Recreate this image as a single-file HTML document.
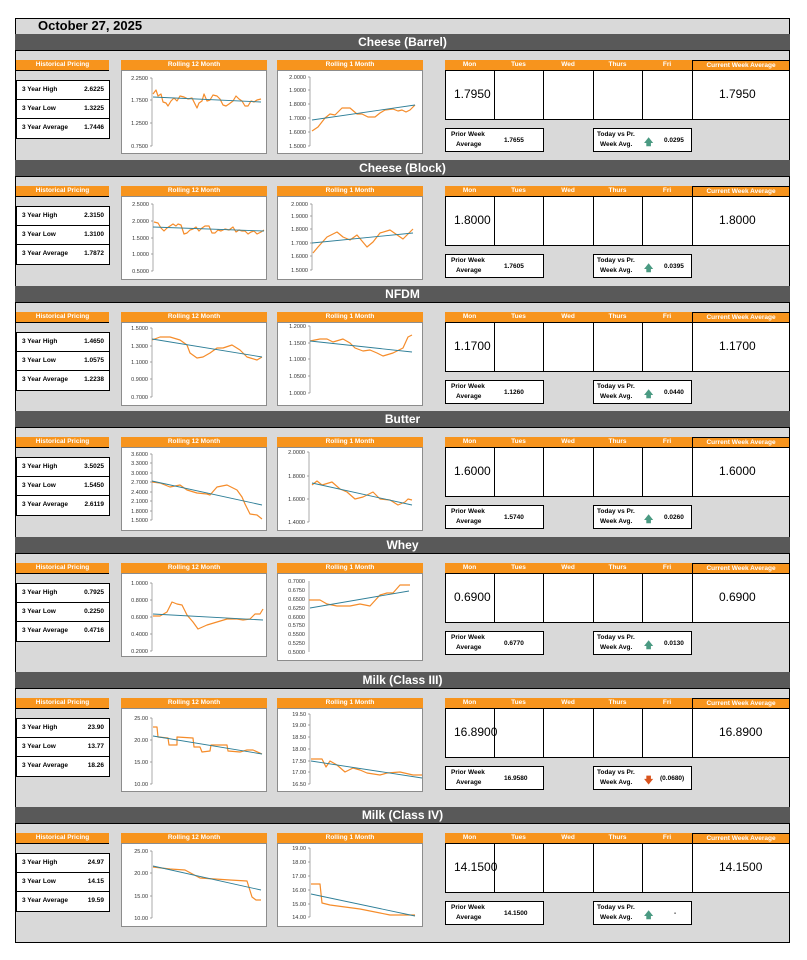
<!DOCTYPE html>
<html><head><meta charset="utf-8"><style>
*{margin:0;padding:0;box-sizing:border-box}
body{width:807px;height:960px;background:#fff;position:relative;font-family:"Liberation Sans",sans-serif;overflow:hidden}
.frame{position:absolute;left:15px;top:18px;width:775px;height:925px;background:#d9d9d9;border:1px solid #000}
.date{position:absolute;left:38px;top:18px;font-size:13px;font-weight:bold;color:#000}
.sec{position:absolute;left:0;width:807px;height:130px}
.hd{position:absolute;left:15px;top:0;width:775px;height:17px;background:#595959;border-bottom:1px solid #000;color:#fff;font-weight:bold;font-size:12px;text-align:center;line-height:16px;padding-left:0}
.ob{position:absolute;top:26px;height:10px;background:#f7941d;color:#fff;font-size:6.5px;font-weight:bold;text-align:center;line-height:10px}
.hist{left:16px;width:93px;border-bottom:1px solid #000;height:11px}
.tbl{position:absolute;left:16px;top:46px;width:94px;height:59px;background:#fff;border:1px solid #000}
.tbl div{height:19px;border-bottom:1px solid #000;font-size:6.5px;font-weight:bold;line-height:18px;padding:0 5px;display:flex;justify-content:space-between}
.tbl div:last-child{border-bottom:none}
.cb{position:absolute;top:36px;width:146px;height:84px;background:#fff;border:1px solid #8c8c8c}
.cells{position:absolute;left:445px;top:36px;width:345px;height:50px;background:#fff;border:1px solid #000}
.dv{position:absolute;top:0;width:1px;height:48px;background:#000}
.v1{position:absolute;left:8px;top:16px;font-size:12px}
.v2{position:absolute;left:273px;top:16px;font-size:12px}
.bx{position:absolute;top:94px;width:99px;height:24px;background:#fff;border:1px solid #000;font-size:6.5px;font-weight:bold}
.cwa{position:absolute;left:692px;top:26px;width:98px;height:11px;border:1px solid #000;background:#f7941d;color:#fff;font-size:6.5px;font-weight:bold;text-align:center;line-height:9px}
svg{position:absolute;left:0;top:0}
</style></head><body>
<div class="frame"></div>
<div class="date">October 27, 2025</div>

<div class="sec" style="top:34px">
<div class="hd">Cheese (Barrel)</div>
<div class="ob hist">Historical Pricing</div>
<div class="tbl"><div><span>3 Year High</span><span>2.6225</span></div><div><span>3 Year Low</span><span>1.3225</span></div><div><span>3 Year Average</span><span>1.7446</span></div></div>
<div class="ob" style="left:121px;width:146px">Rolling 12 Month</div><div class="cb" style="left:121px"></div>
<div class="ob" style="left:277px;width:146px">Rolling 1 Month</div><div class="cb" style="left:277px"></div>
<div class="ob" style="left:445px;width:247px;display:flex"><span style="width:49px">Mon</span><span style="width:49px">Tues</span><span style="width:50px">Wed</span><span style="width:49px">Thurs</span><span style="width:50px">Fri</span></div>
<div class="cwa">Current Week Average</div>
<div class="cells"><div class="dv" style="left:48px"></div><div class="dv" style="left:97px"></div><div class="dv" style="left:147px"></div><div class="dv" style="left:196px"></div><div class="dv" style="left:246px"></div><div class="v1">1.7950</div><div class="v2">1.7950</div></div>
<div class="bx" style="left:445px"><span style="position:absolute;left:5px;top:2px">Prior Week</span><span style="position:absolute;left:10px;top:12px">Average</span><span style="position:absolute;left:58px;top:8px">1.7655</span></div>
<div class="bx" style="left:593px"><span style="position:absolute;left:3px;top:2px">Today vs Pr.</span><span style="position:absolute;left:6px;top:12px">Week Avg.</span><span style="position:absolute;left:50px;top:6px;color:#4a9a82;font-size:9px">🡅</span><span style="position:absolute;left:70px;top:8px">0.0295</span></div>
</div>

<div class="sec" style="top:160px">
<div class="hd">Cheese (Block)</div>
<div class="ob hist">Historical Pricing</div>
<div class="tbl"><div><span>3 Year High</span><span>2.3150</span></div><div><span>3 Year Low</span><span>1.3100</span></div><div><span>3 Year Average</span><span>1.7872</span></div></div>
<div class="ob" style="left:121px;width:146px">Rolling 12 Month</div><div class="cb" style="left:121px"></div>
<div class="ob" style="left:277px;width:146px">Rolling 1 Month</div><div class="cb" style="left:277px"></div>
<div class="ob" style="left:445px;width:247px;display:flex"><span style="width:49px">Mon</span><span style="width:49px">Tues</span><span style="width:50px">Wed</span><span style="width:49px">Thurs</span><span style="width:50px">Fri</span></div>
<div class="cwa">Current Week Average</div>
<div class="cells"><div class="dv" style="left:48px"></div><div class="dv" style="left:97px"></div><div class="dv" style="left:147px"></div><div class="dv" style="left:196px"></div><div class="dv" style="left:246px"></div><div class="v1">1.8000</div><div class="v2">1.8000</div></div>
<div class="bx" style="left:445px"><span style="position:absolute;left:5px;top:2px">Prior Week</span><span style="position:absolute;left:10px;top:12px">Average</span><span style="position:absolute;left:58px;top:8px">1.7605</span></div>
<div class="bx" style="left:593px"><span style="position:absolute;left:3px;top:2px">Today vs Pr.</span><span style="position:absolute;left:6px;top:12px">Week Avg.</span><span style="position:absolute;left:50px;top:6px;color:#4a9a82;font-size:9px">🡅</span><span style="position:absolute;left:70px;top:8px">0.0395</span></div>
</div>

<div class="sec" style="top:286px">
<div class="hd">NFDM</div>
<div class="ob hist">Historical Pricing</div>
<div class="tbl"><div><span>3 Year High</span><span>1.4650</span></div><div><span>3 Year Low</span><span>1.0575</span></div><div><span>3 Year Average</span><span>1.2238</span></div></div>
<div class="ob" style="left:121px;width:146px">Rolling 12 Month</div><div class="cb" style="left:121px"></div>
<div class="ob" style="left:277px;width:146px">Rolling 1 Month</div><div class="cb" style="left:277px"></div>
<div class="ob" style="left:445px;width:247px;display:flex"><span style="width:49px">Mon</span><span style="width:49px">Tues</span><span style="width:50px">Wed</span><span style="width:49px">Thurs</span><span style="width:50px">Fri</span></div>
<div class="cwa">Current Week Average</div>
<div class="cells"><div class="dv" style="left:48px"></div><div class="dv" style="left:97px"></div><div class="dv" style="left:147px"></div><div class="dv" style="left:196px"></div><div class="dv" style="left:246px"></div><div class="v1">1.1700</div><div class="v2">1.1700</div></div>
<div class="bx" style="left:445px"><span style="position:absolute;left:5px;top:2px">Prior Week</span><span style="position:absolute;left:10px;top:12px">Average</span><span style="position:absolute;left:58px;top:8px">1.1260</span></div>
<div class="bx" style="left:593px"><span style="position:absolute;left:3px;top:2px">Today vs Pr.</span><span style="position:absolute;left:6px;top:12px">Week Avg.</span><span style="position:absolute;left:50px;top:6px;color:#4a9a82;font-size:9px">🡅</span><span style="position:absolute;left:70px;top:8px">0.0440</span></div>
</div>

<div class="sec" style="top:411px">
<div class="hd">Butter</div>
<div class="ob hist">Historical Pricing</div>
<div class="tbl"><div><span>3 Year High</span><span>3.5025</span></div><div><span>3 Year Low</span><span>1.5450</span></div><div><span>3 Year Average</span><span>2.6119</span></div></div>
<div class="ob" style="left:121px;width:146px">Rolling 12 Month</div><div class="cb" style="left:121px"></div>
<div class="ob" style="left:277px;width:146px">Rolling 1 Month</div><div class="cb" style="left:277px"></div>
<div class="ob" style="left:445px;width:247px;display:flex"><span style="width:49px">Mon</span><span style="width:49px">Tues</span><span style="width:50px">Wed</span><span style="width:49px">Thurs</span><span style="width:50px">Fri</span></div>
<div class="cwa">Current Week Average</div>
<div class="cells"><div class="dv" style="left:48px"></div><div class="dv" style="left:97px"></div><div class="dv" style="left:147px"></div><div class="dv" style="left:196px"></div><div class="dv" style="left:246px"></div><div class="v1">1.6000</div><div class="v2">1.6000</div></div>
<div class="bx" style="left:445px"><span style="position:absolute;left:5px;top:2px">Prior Week</span><span style="position:absolute;left:10px;top:12px">Average</span><span style="position:absolute;left:58px;top:8px">1.5740</span></div>
<div class="bx" style="left:593px"><span style="position:absolute;left:3px;top:2px">Today vs Pr.</span><span style="position:absolute;left:6px;top:12px">Week Avg.</span><span style="position:absolute;left:50px;top:6px;color:#4a9a82;font-size:9px">🡅</span><span style="position:absolute;left:70px;top:8px">0.0260</span></div>
</div>

<div class="sec" style="top:537px">
<div class="hd">Whey</div>
<div class="ob hist">Historical Pricing</div>
<div class="tbl"><div><span>3 Year High</span><span>0.7925</span></div><div><span>3 Year Low</span><span>0.2250</span></div><div><span>3 Year Average</span><span>0.4716</span></div></div>
<div class="ob" style="left:121px;width:146px">Rolling 12 Month</div><div class="cb" style="left:121px"></div>
<div class="ob" style="left:277px;width:146px">Rolling 1 Month</div><div class="cb" style="left:277px;height:88px"></div>
<div class="ob" style="left:445px;width:247px;display:flex"><span style="width:49px">Mon</span><span style="width:49px">Tues</span><span style="width:50px">Wed</span><span style="width:49px">Thurs</span><span style="width:50px">Fri</span></div>
<div class="cwa">Current Week Average</div>
<div class="cells"><div class="dv" style="left:48px"></div><div class="dv" style="left:97px"></div><div class="dv" style="left:147px"></div><div class="dv" style="left:196px"></div><div class="dv" style="left:246px"></div><div class="v1">0.6900</div><div class="v2">0.6900</div></div>
<div class="bx" style="left:445px"><span style="position:absolute;left:5px;top:2px">Prior Week</span><span style="position:absolute;left:10px;top:12px">Average</span><span style="position:absolute;left:58px;top:8px">0.6770</span></div>
<div class="bx" style="left:593px"><span style="position:absolute;left:3px;top:2px">Today vs Pr.</span><span style="position:absolute;left:6px;top:12px">Week Avg.</span><span style="position:absolute;left:50px;top:6px;color:#4a9a82;font-size:9px">🡅</span><span style="position:absolute;left:70px;top:8px">0.0130</span></div>
</div>

<div class="sec" style="top:672px">
<div class="hd">Milk (Class III)</div>
<div class="ob hist">Historical Pricing</div>
<div class="tbl"><div><span>3 Year High</span><span>23.90</span></div><div><span>3 Year Low</span><span>13.77</span></div><div><span>3 Year Average</span><span>18.26</span></div></div>
<div class="ob" style="left:121px;width:146px">Rolling 12 Month</div><div class="cb" style="left:121px"></div>
<div class="ob" style="left:277px;width:146px">Rolling 1 Month</div><div class="cb" style="left:277px"></div>
<div class="ob" style="left:445px;width:247px;display:flex"><span style="width:49px">Mon</span><span style="width:49px">Tues</span><span style="width:50px">Wed</span><span style="width:49px">Thurs</span><span style="width:50px">Fri</span></div>
<div class="cwa">Current Week Average</div>
<div class="cells"><div class="dv" style="left:48px"></div><div class="dv" style="left:97px"></div><div class="dv" style="left:147px"></div><div class="dv" style="left:196px"></div><div class="dv" style="left:246px"></div><div class="v1">16.8900</div><div class="v2">16.8900</div></div>
<div class="bx" style="left:445px"><span style="position:absolute;left:5px;top:2px">Prior Week</span><span style="position:absolute;left:10px;top:12px">Average</span><span style="position:absolute;left:58px;top:8px">16.9580</span></div>
<div class="bx" style="left:593px"><span style="position:absolute;left:3px;top:2px">Today vs Pr.</span><span style="position:absolute;left:6px;top:12px">Week Avg.</span><span style="position:absolute;left:50px;top:6px;color:#d9541e;font-size:9px">🡇</span><span style="position:absolute;left:66px;top:8px">(0.0680)</span></div>
</div>

<div class="sec" style="top:807px">
<div class="hd">Milk (Class IV)</div>
<div class="ob hist">Historical Pricing</div>
<div class="tbl"><div><span>3 Year High</span><span>24.97</span></div><div><span>3 Year Low</span><span>14.15</span></div><div><span>3 Year Average</span><span>19.59</span></div></div>
<div class="ob" style="left:121px;width:146px">Rolling 12 Month</div><div class="cb" style="left:121px"></div>
<div class="ob" style="left:277px;width:146px">Rolling 1 Month</div><div class="cb" style="left:277px"></div>
<div class="ob" style="left:445px;width:247px;display:flex"><span style="width:49px">Mon</span><span style="width:49px">Tues</span><span style="width:50px">Wed</span><span style="width:49px">Thurs</span><span style="width:50px">Fri</span></div>
<div class="cwa">Current Week Average</div>
<div class="cells"><div class="dv" style="left:48px"></div><div class="dv" style="left:97px"></div><div class="dv" style="left:147px"></div><div class="dv" style="left:196px"></div><div class="dv" style="left:246px"></div><div class="v1">14.1500</div><div class="v2">14.1500</div></div>
<div class="bx" style="left:445px"><span style="position:absolute;left:5px;top:2px">Prior Week</span><span style="position:absolute;left:10px;top:12px">Average</span><span style="position:absolute;left:58px;top:8px">14.1500</span></div>
<div class="bx" style="left:593px"><span style="position:absolute;left:3px;top:2px">Today vs Pr.</span><span style="position:absolute;left:6px;top:12px">Week Avg.</span><span style="position:absolute;left:50px;top:6px;color:#4a9a82;font-size:9px">🡅</span><span style="position:absolute;left:80px;top:8px">-</span></div>
</div>

<svg width="807" height="960" viewBox="0 0 807 960" font-family="Liberation Sans, sans-serif" font-size="5.5" fill="#333">
<g stroke="#888" stroke-width="0.7" fill="none">
<path d="M152 78V146M152 78h-2M152 100h-2M152 123h-2M152 146h-2"/>
<path d="M310 77V146M310 77h-2M310 90h-2M310 104h-2M310 118h-2M310 132h-2M310 146h-2"/>
<path d="M153 204V271M153 204h-2M153 221h-2M153 238h-2M153 254h-2M153 271h-2"/>
<path d="M312 204V270M312 204h-2M312 216h-2M312 229h-2M312 243h-2M312 256h-2M312 270h-2"/>
<path d="M152 328V397M152 328h-2M152 346h-2M152 362h-2M152 379h-2M152 397h-2"/>
<path d="M310 326V393M310 326h-2M310 343h-2M310 359h-2M310 376h-2M310 393h-2"/>
<path d="M152 454V520M152 454h-2M152 463h-2M152 473h-2M152 482h-2M152 492h-2M152 501h-2M152 511h-2M152 520h-2"/>
<path d="M309 452V522M309 452h-2M309 476h-2M309 499h-2M309 522h-2"/>
<path d="M152 583V651M152 583h-2M152 600h-2M152 617h-2M152 634h-2M152 651h-2"/>
<path d="M309 581V652"/>
<path d="M152 718V784M152 718h-2M152 740h-2M152 762h-2M152 784h-2"/>
<path d="M310 714V784M310 714h-2M310 725h-2M310 737h-2M310 749h-2M310 761h-2M310 772h-2M310 784h-2"/>
<path d="M152 851V918M152 851h-2M152 873h-2M152 896h-2M152 918h-2"/>
<path d="M310 848V917M310 848h-2M310 862h-2M310 876h-2M310 890h-2M310 904h-2M310 917h-2"/>
</g>
<g text-anchor="end">
<text x="148" y="80">2.2500</text><text x="148" y="102">1.7500</text><text x="148" y="125">1.2500</text><text x="148" y="148">0.7500</text>
<text x="306" y="79">2.0000</text><text x="306" y="92">1.9000</text><text x="306" y="106">1.8000</text><text x="306" y="120">1.7000</text><text x="306" y="134">1.6000</text><text x="306" y="148">1.5000</text>
<text x="149" y="206">2.5000</text><text x="149" y="223">2.0000</text><text x="149" y="240">1.5000</text><text x="149" y="256">1.0000</text><text x="149" y="273">0.5000</text>
<text x="308" y="206">2.0000</text><text x="308" y="218">1.9000</text><text x="308" y="231">1.8000</text><text x="308" y="245">1.7000</text><text x="308" y="258">1.6000</text><text x="308" y="272">1.5000</text>
<text x="148" y="330">1.5000</text><text x="148" y="348">1.3000</text><text x="148" y="364">1.1000</text><text x="148" y="381">0.9000</text><text x="148" y="399">0.7000</text>
<text x="306" y="328">1.2000</text><text x="306" y="345">1.1500</text><text x="306" y="361">1.1000</text><text x="306" y="378">1.0500</text><text x="306" y="395">1.0000</text>
<text x="148" y="456">3.6000</text><text x="148" y="465">3.3000</text><text x="148" y="475">3.0000</text><text x="148" y="484">2.7000</text><text x="148" y="494">2.4000</text><text x="148" y="503">2.1000</text><text x="148" y="513">1.8000</text><text x="148" y="522">1.5000</text>
<text x="305" y="454">2.0000</text><text x="305" y="478">1.8000</text><text x="305" y="501">1.6000</text><text x="305" y="524">1.4000</text>
<text x="148" y="585">1.0000</text><text x="148" y="602">0.8000</text><text x="148" y="619">0.6000</text><text x="148" y="636">0.4000</text><text x="148" y="653">0.2000</text>
<text x="305" y="583">0.7000</text><text x="305" y="592">0.6750</text><text x="305" y="601">0.6500</text><text x="305" y="610">0.6250</text><text x="305" y="619">0.6000</text><text x="305" y="627">0.5750</text><text x="305" y="636">0.5500</text><text x="305" y="645">0.5250</text><text x="305" y="654">0.5000</text>
<text x="148" y="720">25.00</text><text x="148" y="742">20.00</text><text x="148" y="764">15.00</text><text x="148" y="786">10.00</text>
<text x="306" y="716">19.50</text><text x="306" y="727">19.00</text><text x="306" y="739">18.50</text><text x="306" y="751">18.00</text><text x="306" y="763">17.50</text><text x="306" y="774">17.00</text><text x="306" y="786">16.50</text>
<text x="148" y="853">25.00</text><text x="148" y="875">20.00</text><text x="148" y="898">15.00</text><text x="148" y="920">10.00</text>
<text x="306" y="850">19.00</text><text x="306" y="864">18.00</text><text x="306" y="878">17.00</text><text x="306" y="892">16.00</text><text x="306" y="906">15.00</text><text x="306" y="919">14.00</text>
</g>
<g fill="none" stroke="#f58c2a" stroke-width="1.2" stroke-linejoin="round">
<polyline points="153,94 156,90 158,96 161,94 163,102 166,103 168,106 171,101 174,98 177,101 180,96 184,97 188,99 192,98 195,104 197,108 199,103 202,101 204,94 207,101 210,100 213,95 217,96 220,99 223,105 226,106 229,104 233,101 236,96 239,99 242,101 245,106 248,106 251,101 254,102 257,100 261,99"/>
<polyline points="312,131 318,127 325,118 330,114 335,115 342,108 350,108 357,114 362,114 368,117 375,117 380,113 385,110 393,109 398,111 402,110 406,112 410,110 415,105"/>
<polyline points="154,222 158,223 161,228 164,231 167,228 170,226 173,224 176,226 178,224 181,225 184,234 187,233 190,230 193,229 196,227 199,231 202,228 205,226 209,226 212,233 215,233 218,230 221,231 225,229 229,230 233,227 236,232 239,230 242,231 245,231 248,234 251,232 254,231 257,234 261,232 264,230"/>
<polyline points="313,253 318,247 327,237 337,232 343,237 350,240 357,235 367,247 373,242 380,233 390,230 403,239 413,229"/>
<polyline points="152,340 160,337 170,337 180,340 187,345 190,353 197,358 203,357 210,353 217,348 223,348 232,345 240,350 247,357 257,360 262,357"/>
<polyline points="310,341 320,339 327,339 333,342 343,339 350,343 355,348 363,351 370,350 377,353 383,356 393,353 403,348 408,337 412,335"/>
<polyline points="152,482 160,483 170,487 180,485 187,490 197,493 207,494 210,495 217,487 227,485 237,490 242,497 245,504 250,514 257,515 262,519"/>
<polyline points="312,485 317,481 322,485 332,482 340,489 347,492 355,499 363,497 373,492 380,499 390,500 398,505 405,502 408,499 412,500"/>
<polyline points="153,616 160,616 167,612 172,602 177,604 182,605 187,615 193,622 198,629 207,625 217,622 227,619 237,619 243,620 250,619 255,614 260,614 263,609"/>
<polyline points="309,600 320,600 327,604 337,606 350,606 360,604 370,606 380,595 387,593 393,593 400,585 410,585"/>
<polyline points="153,727 157,727 158,737 168,738 169,745 177,745 177,737 193,738 194,747 200,747 202,752 210,751 211,745 227,745 228,751 240,752 247,750 253,750 262,754"/>
<polyline points="311,759 322,759 326,767 330,761 337,765 345,772 353,768 360,770 367,773 380,775 387,773 400,772 413,775 422,775"/>
<polyline points="153,867 170,869 185,870 200,878 230,880 247,881 252,897 256,900 261,900"/>
<polyline points="311,884 320,884 322,903 330,905 360,909 390,915 415,915"/>
</g>
<g stroke="#2f7f98" stroke-width="0.9">
<line x1="153" y1="97" x2="261" y2="102"/><line x1="312" y1="120" x2="415" y2="105"/>
<line x1="153" y1="227" x2="264" y2="231"/><line x1="312" y1="243" x2="413" y2="233"/>
<line x1="152" y1="339" x2="262" y2="357"/><line x1="310" y1="341" x2="412" y2="352"/>
<line x1="152" y1="481" x2="262" y2="505"/><line x1="312" y1="483" x2="412" y2="505"/>
<line x1="153" y1="614" x2="263" y2="620"/><line x1="310" y1="608" x2="409" y2="591"/>
<line x1="153" y1="736" x2="262" y2="754"/><line x1="311" y1="761" x2="422" y2="778"/>
<line x1="153" y1="866" x2="261" y2="890"/><line x1="311" y1="894" x2="415" y2="916"/>
</g>
</svg>
</body></html>
